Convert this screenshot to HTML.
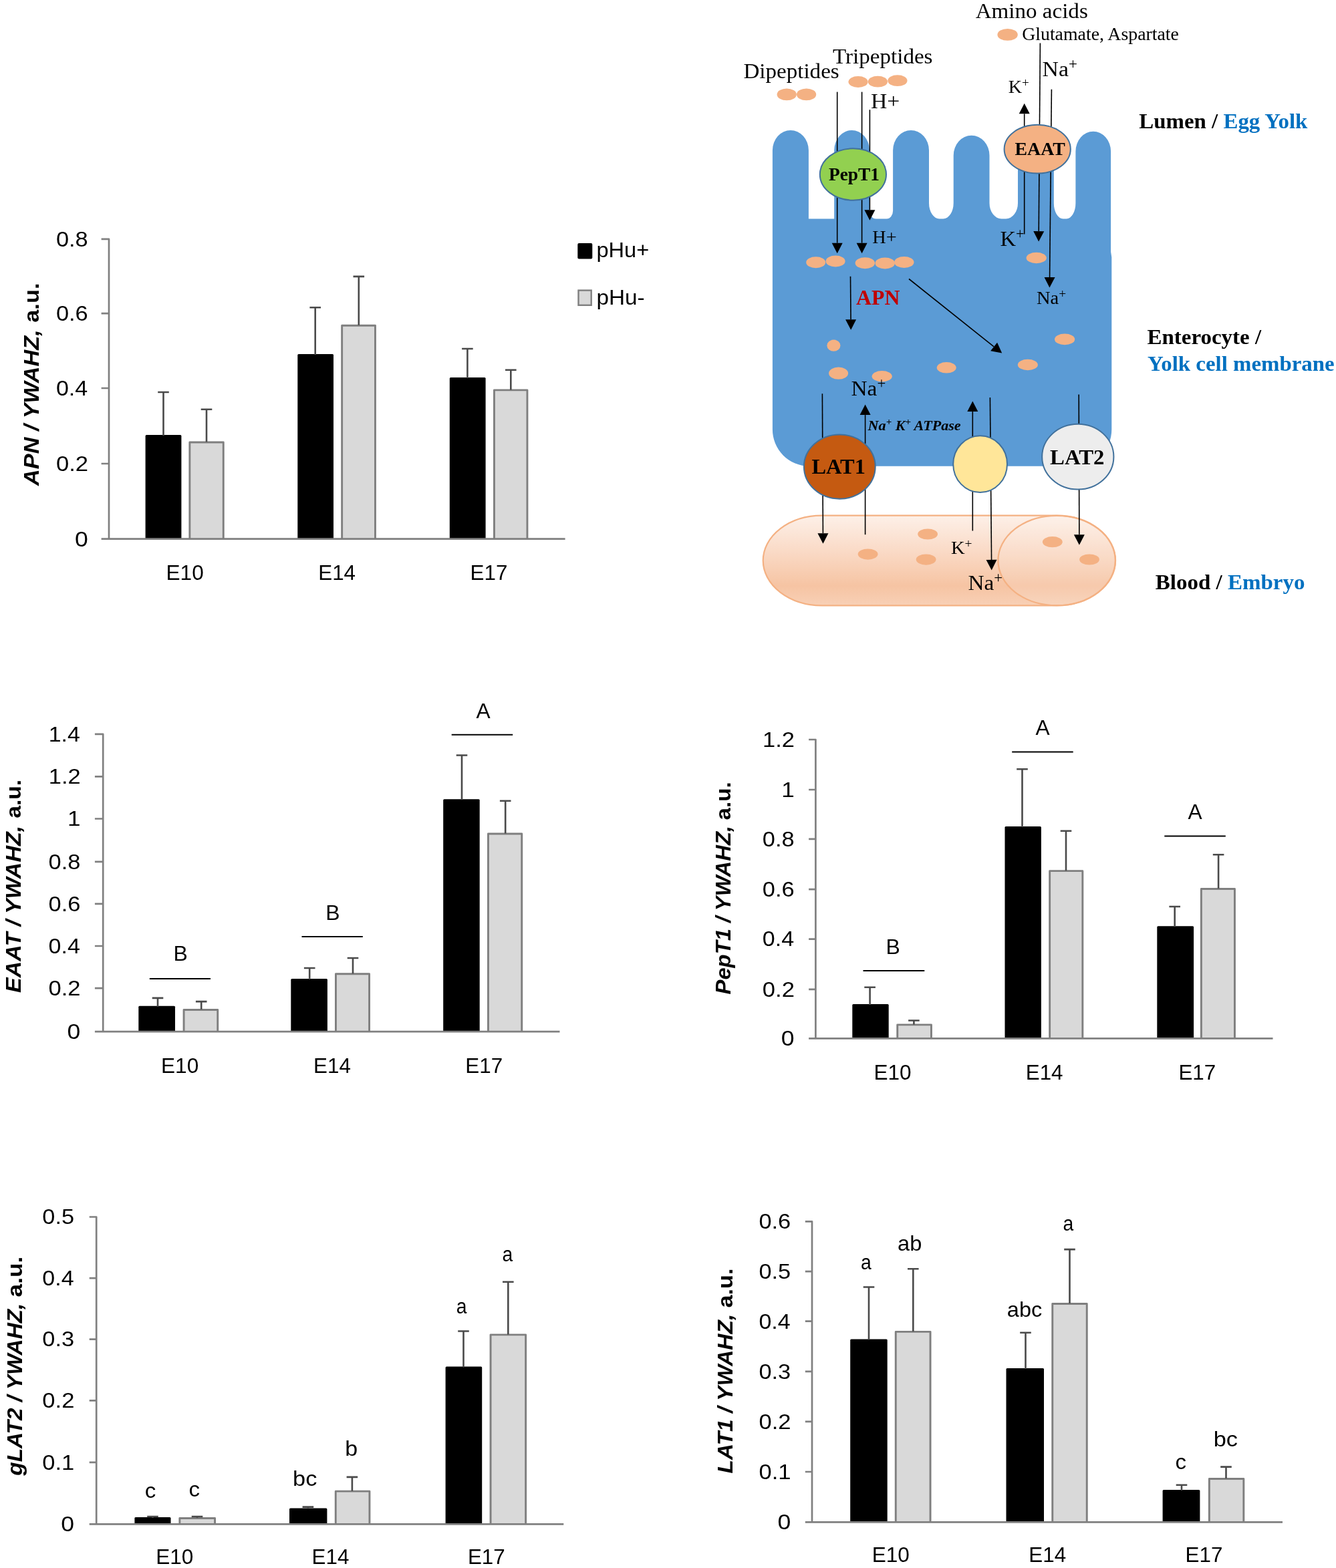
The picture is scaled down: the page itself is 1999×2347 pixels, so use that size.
<!DOCTYPE html>
<html lang="en"><head><meta charset="utf-8"><title>Amino acid and peptide transporters</title>
<style>html,body{margin:0;padding:0;background:#fff}svg{display:block}.s{font-family:'Liberation Sans',sans-serif}.r{font-family:'Liberation Serif',serif}</style>
</head><body>
<svg width="1999" height="2347" viewBox="0 0 1999 2347">
<rect width="1999" height="2347" fill="#fff"/>
<g>
<rect x="217.6" y="651" width="53.8" height="155.7" rx="1.5" fill="#000"/>
<path d="M283.85 806.7V662.05H334.25V806.7" fill="#d9d9d9" stroke="#7f7f7f" stroke-width="2.9" stroke-linejoin="round"/>
<rect x="445.3" y="530" width="53.7" height="276.7" rx="1.5" fill="#000"/>
<path d="M511.65 806.7V487.25H561.45V806.7" fill="#d9d9d9" stroke="#7f7f7f" stroke-width="2.9" stroke-linejoin="round"/>
<rect x="672.8" y="565" width="53.8" height="241.7" rx="1.5" fill="#000"/>
<path d="M739.45 806.7V583.85H788.95V806.7" fill="#d9d9d9" stroke="#7f7f7f" stroke-width="2.9" stroke-linejoin="round"/>
<path d="M244.5 652V587M236.2 587H252.8M309 661.6V612.7M300.7 612.7H317.3M471.7 531V460.3M463.4 460.3H480M536.8 486.8V413.9M528.5 413.9H545.1M699.4 566V522M691.1 522H707.7M764.3 583.4V553.8M756 553.8H772.6" stroke="#4a4a4a" stroke-width="2.6" fill="none"/>
<path d="M151.6 357.8H163V806.7M151.6 806.7H845.6M151.6 694H163M151.6 581H163M151.6 469.1H163" stroke="#808080" stroke-width="2.7" stroke-linejoin="round" fill="none"/>
<text class="s" transform="translate(111.88 817.5) scale(1.1302 1)" font-size="31.5">0</text>
<text class="s" transform="translate(83.92 704.8) scale(1.0989 1)" font-size="31.5">0.2</text>
<text class="s" transform="translate(83.94 591.8) scale(1.0802 1)" font-size="31.5">0.4</text>
<text class="s" transform="translate(83.92 479.9) scale(1.0926 1)" font-size="31.5">0.6</text>
<text class="s" transform="translate(83.92 368.6) scale(1.0926 1)" font-size="31.5">0.8</text>
<text class="s" transform="translate(248.55 867.6) scale(1.0017 1)" font-size="31.5">E10</text>
<text class="s" transform="translate(476.26 867.6) scale(0.9957 1)" font-size="31.5">E14</text>
<text class="s" transform="translate(703.61 867.6) scale(0.9958 1)" font-size="31.5">E17</text>
<text class="s" transform="translate(58.3 727.01) rotate(-90) scale(1.0727 1)" font-size="32" font-weight="bold" font-style="italic">APN / YWAHZ,</text>
<text class="s" transform="translate(58.3 482.73) rotate(-90) scale(1.0731 1)" font-size="32" font-weight="bold">a.u.</text>
</g>
<g>
<rect x="207.3" y="1505.8" width="54.7" height="38.4" rx="1.5" fill="#000"/>
<path d="M275.05 1544.2V1511.55H325.75V1544.2" fill="#d9d9d9" stroke="#7f7f7f" stroke-width="2.9" stroke-linejoin="round"/>
<rect x="435.3" y="1465" width="54.6" height="79.2" rx="1.5" fill="#000"/>
<path d="M502.45 1544.2V1457.75H552.55V1544.2" fill="#d9d9d9" stroke="#7f7f7f" stroke-width="2.9" stroke-linejoin="round"/>
<rect x="663.2" y="1196.2" width="54.5" height="348" rx="1.5" fill="#000"/>
<path d="M730.45 1544.2V1248.05H780.75V1544.2" fill="#d9d9d9" stroke="#7f7f7f" stroke-width="2.9" stroke-linejoin="round"/>
<path d="M236 1506.8V1493.9M227.7 1493.9H244.3M301.2 1511.1V1499.1M292.9 1499.1H309.5M463.2 1466V1449M454.9 1449H471.5M528 1457.3V1434M519.7 1434H536.3M691 1197.2V1130.5M682.7 1130.5H699.3M756.2 1247.6V1198.8M747.9 1198.8H764.5" stroke="#4a4a4a" stroke-width="2.6" fill="none"/>
<path d="M141.9 1098.9H154.2V1544.2M141.9 1544.2H837.5M141.9 1479.1H154.2M141.9 1416H154.2M141.9 1352.9H154.2M141.9 1289.8H154.2M141.9 1225.5H154.2M141.9 1162.3H154.2" stroke="#808080" stroke-width="2.7" stroke-linejoin="round" fill="none"/>
<text class="s" transform="translate(100.48 1555) scale(1.1302 1)" font-size="31.5">0</text>
<text class="s" transform="translate(72.52 1489.9) scale(1.0989 1)" font-size="31.5">0.2</text>
<text class="s" transform="translate(72.54 1426.8) scale(1.0802 1)" font-size="31.5">0.4</text>
<text class="s" transform="translate(72.52 1363.7) scale(1.0926 1)" font-size="31.5">0.6</text>
<text class="s" transform="translate(72.52 1300.6) scale(1.0926 1)" font-size="31.5">0.8</text>
<text class="s" transform="translate(101.06 1236.3) scale(1.1157 1)" font-size="31.5">1</text>
<text class="s" transform="translate(72.72 1173.1) scale(1.0942 1)" font-size="31.5">1.2</text>
<text class="s" transform="translate(72.76 1109.7) scale(1.0751 1)" font-size="31.5">1.4</text>
<text class="s" transform="translate(241.05 1605.9) scale(1.0017 1)" font-size="31.5">E10</text>
<text class="s" transform="translate(469.06 1605.9) scale(0.9957 1)" font-size="31.5">E14</text>
<text class="s" transform="translate(696.31 1605.9) scale(0.9958 1)" font-size="31.5">E17</text>
<path d="M223.8 1465H315" stroke="#000" stroke-width="2"/>
<path d="M451.5 1402.1H542.8" stroke="#000" stroke-width="2"/>
<path d="M675.7 1099.8H767.2" stroke="#000" stroke-width="2"/>
<text class="s" transform="translate(259.57 1438.3) scale(1.0135 1)" font-size="31.5">B</text>
<text class="s" transform="translate(487.37 1376.6) scale(1.0135 1)" font-size="31.5">B</text>
<text class="s" transform="translate(712.62 1074.9) scale(1.0063 1)" font-size="31.5">A</text>
<text class="s" transform="translate(31.3 1485.9) rotate(-90) scale(1.0634 1)" font-size="32" font-weight="bold" font-style="italic">EAAT / YWAHZ,</text>
<text class="s" transform="translate(31.3 1224.81) rotate(-90) scale(1.0519 1)" font-size="32" font-weight="bold">a.u.</text>
</g>
<g>
<rect x="1275.3" y="1502.9" width="54.4" height="51.5" rx="1.5" fill="#000"/>
<path d="M1342.75 1554.4V1533.85H1393.45V1554.4" fill="#d9d9d9" stroke="#7f7f7f" stroke-width="2.9" stroke-linejoin="round"/>
<rect x="1503.5" y="1237" width="54.4" height="317.4" rx="1.5" fill="#000"/>
<path d="M1570.65 1554.4V1303.65H1619.85V1554.4" fill="#d9d9d9" stroke="#7f7f7f" stroke-width="2.9" stroke-linejoin="round"/>
<rect x="1731.3" y="1386.2" width="54.8" height="168.2" rx="1.5" fill="#000"/>
<path d="M1797.35 1554.4V1330.55H1847.45V1554.4" fill="#d9d9d9" stroke="#7f7f7f" stroke-width="2.9" stroke-linejoin="round"/>
<path d="M1301.6 1503.9V1477.7M1293.3 1477.7H1309.9M1367.4 1533.4V1527.5M1359.1 1527.5H1375.7M1529.5 1238V1151.2M1521.2 1151.2H1537.8M1595 1303.2V1243.7M1586.7 1243.7H1603.3M1757.7 1387.2V1357M1749.4 1357H1766M1823.1 1330.1V1279.3M1814.8 1279.3H1831.4" stroke="#4a4a4a" stroke-width="2.6" fill="none"/>
<path d="M1210.1 1107H1220.4V1554.4M1210.1 1554.4H1904.5M1210.1 1480.8H1220.4M1210.1 1405.6H1220.4M1210.1 1331.2H1220.4M1210.1 1255.9H1220.4M1210.1 1182H1220.4" stroke="#808080" stroke-width="2.7" stroke-linejoin="round" fill="none"/>
<text class="s" transform="translate(1168.78 1565.2) scale(1.1302 1)" font-size="31.5">0</text>
<text class="s" transform="translate(1140.82 1491.6) scale(1.0989 1)" font-size="31.5">0.2</text>
<text class="s" transform="translate(1140.84 1416.4) scale(1.0802 1)" font-size="31.5">0.4</text>
<text class="s" transform="translate(1140.82 1342) scale(1.0926 1)" font-size="31.5">0.6</text>
<text class="s" transform="translate(1140.82 1266.7) scale(1.0926 1)" font-size="31.5">0.8</text>
<text class="s" transform="translate(1169.36 1192.8) scale(1.1157 1)" font-size="31.5">1</text>
<text class="s" transform="translate(1141.02 1117.8) scale(1.0942 1)" font-size="31.5">1.2</text>
<text class="s" transform="translate(1307.45 1616) scale(1.0017 1)" font-size="31.5">E10</text>
<text class="s" transform="translate(1534.76 1616) scale(0.9957 1)" font-size="31.5">E14</text>
<text class="s" transform="translate(1763.41 1616) scale(0.9958 1)" font-size="31.5">E17</text>
<path d="M1291.5 1453.1H1383.3" stroke="#000" stroke-width="2"/>
<path d="M1514.2 1125.4H1605.7" stroke="#000" stroke-width="2"/>
<path d="M1742.3 1251.5H1833.8" stroke="#000" stroke-width="2"/>
<text class="s" transform="translate(1325.57 1428.2) scale(1.0135 1)" font-size="31.5">B</text>
<text class="s" transform="translate(1549.42 1099.5) scale(1.0063 1)" font-size="31.5">A</text>
<text class="s" transform="translate(1777.52 1226) scale(1.0063 1)" font-size="31.5">A</text>
<text class="s" transform="translate(1092.6 1488.47) rotate(-90) scale(1.0247 1)" font-size="32" font-weight="bold" font-style="italic">PepT1 / YWAHZ,</text>
<text class="s" transform="translate(1092.6 1227.39) rotate(-90) scale(1.0346 1)" font-size="32" font-weight="bold">a.u.</text>
</g>
<g>
<rect x="201.4" y="2270.9" width="54.1" height="10.4" rx="1.5" fill="#000"/>
<path d="M268.85 2281.3V2272.45H321.55V2281.3" fill="#d9d9d9" stroke="#7f7f7f" stroke-width="2.9" stroke-linejoin="round"/>
<rect x="433" y="2257.6" width="56.4" height="23.7" rx="1.5" fill="#000"/>
<path d="M502.25 2281.3V2232.15H552.95V2281.3" fill="#d9d9d9" stroke="#7f7f7f" stroke-width="2.9" stroke-linejoin="round"/>
<rect x="666.6" y="2045.4" width="54.6" height="235.9" rx="1.5" fill="#000"/>
<path d="M734.05 2281.3V1997.85H786.65V2281.3" fill="#d9d9d9" stroke="#7f7f7f" stroke-width="2.9" stroke-linejoin="round"/>
<path d="M228.5 2271.9V2270M220.2 2270H236.8M295 2272V2270M286.7 2270H303.3M460.9 2258.6V2255.6M452.6 2255.6H469.2M526.9 2231.7V2210.9M518.6 2210.9H535.2M693.5 2046.4V1992.5M685.2 1992.5H701.8M760.3 1997.4V1918.8M752 1918.8H768.6" stroke="#4a4a4a" stroke-width="2.6" fill="none"/>
<path d="M133.7 1821.5H144.2V2281.3M133.7 2281.3H843.3M133.7 2188.8H144.2M133.7 2096.4H144.2M133.7 2004.6H144.2M133.7 1913.1H144.2" stroke="#808080" stroke-width="2.7" stroke-linejoin="round" fill="none"/>
<text class="s" transform="translate(91.28 2292.1) scale(1.1302 1)" font-size="31.5">0</text>
<text class="s" transform="translate(63.32 2199.6) scale(1.0968 1)" font-size="31.5">0.1</text>
<text class="s" transform="translate(63.32 2107.2) scale(1.0989 1)" font-size="31.5">0.2</text>
<text class="s" transform="translate(63.32 2015.4) scale(1.0926 1)" font-size="31.5">0.3</text>
<text class="s" transform="translate(63.34 1923.9) scale(1.0802 1)" font-size="31.5">0.4</text>
<text class="s" transform="translate(63.33 1832.3) scale(1.0905 1)" font-size="31.5">0.5</text>
<text class="s" transform="translate(233.25 2341.2) scale(1.0017 1)" font-size="31.5">E10</text>
<text class="s" transform="translate(466.56 2341.2) scale(0.9957 1)" font-size="31.5">E14</text>
<text class="s" transform="translate(699.91 2341.2) scale(0.9958 1)" font-size="31.5">E17</text>
<text class="s" transform="translate(216.7 2242.3) scale(1.0484 1)" font-size="31.5">c</text>
<text class="s" transform="translate(282.5 2240.3) scale(1.0484 1)" font-size="31.5">c</text>
<text class="s" transform="translate(438.07 2223.8) scale(1.0884 1)" font-size="31.5">bc</text>
<text class="s" transform="translate(516.14 2178.9) scale(1.0794 1)" font-size="31.5">b</text>
<text class="s" transform="translate(682.7 1965.6) scale(0.9000 1)" font-size="31.5">a</text>
<text class="s" transform="translate(751.4 1887.9) scale(0.9000 1)" font-size="31.5">a</text>
<text class="s" transform="translate(33 2208.72) rotate(-90) scale(1.0423 1)" font-size="32" font-weight="bold" font-style="italic">gLAT2 / YWAHZ,</text>
<text class="s" transform="translate(33 1941.46) rotate(-90) scale(1.1038 1)" font-size="32" font-weight="bold">a.u.</text>
</g>
<g>
<rect x="1272.2" y="2004.6" width="55.5" height="273.7" rx="1.5" fill="#000"/>
<path d="M1340.25 2278.3V1993.35H1392.05V2278.3" fill="#d9d9d9" stroke="#7f7f7f" stroke-width="2.9" stroke-linejoin="round"/>
<rect x="1505.5" y="2048" width="56.5" height="230.3" rx="1.5" fill="#000"/>
<path d="M1574.75 2278.3V1951.45H1626.25V2278.3" fill="#d9d9d9" stroke="#7f7f7f" stroke-width="2.9" stroke-linejoin="round"/>
<rect x="1739.6" y="2229.9" width="55.8" height="48.4" rx="1.5" fill="#000"/>
<path d="M1809.35 2278.3V2213.45H1860.85V2278.3" fill="#d9d9d9" stroke="#7f7f7f" stroke-width="2.9" stroke-linejoin="round"/>
<path d="M1300 2005.6V1926.5M1291.7 1926.5H1308.3M1366.3 1992.9V1899.3M1358 1899.3H1374.6M1534.5 2049V1994.7M1526.2 1994.7H1542.8M1600.5 1951V1870.1M1592.2 1870.1H1608.8M1768 2230.9V2222.8M1759.7 2222.8H1776.3M1834.5 2213V2195.6M1826.2 2195.6H1842.8" stroke="#4a4a4a" stroke-width="2.6" fill="none"/>
<path d="M1204.8 1828.3H1215V2278.3M1204.8 2278.3H1919M1204.8 2203H1215M1204.8 2127.9H1215M1204.8 2052.8H1215M1204.8 1977.7H1215M1204.8 1903.1H1215" stroke="#808080" stroke-width="2.7" stroke-linejoin="round" fill="none"/>
<text class="s" transform="translate(1163.38 2289.1) scale(1.1302 1)" font-size="31.5">0</text>
<text class="s" transform="translate(1135.42 2213.8) scale(1.0968 1)" font-size="31.5">0.1</text>
<text class="s" transform="translate(1135.42 2138.7) scale(1.0989 1)" font-size="31.5">0.2</text>
<text class="s" transform="translate(1135.42 2063.6) scale(1.0926 1)" font-size="31.5">0.3</text>
<text class="s" transform="translate(1135.44 1988.5) scale(1.0802 1)" font-size="31.5">0.4</text>
<text class="s" transform="translate(1135.43 1913.9) scale(1.0905 1)" font-size="31.5">0.5</text>
<text class="s" transform="translate(1135.42 1839.1) scale(1.0926 1)" font-size="31.5">0.6</text>
<text class="s" transform="translate(1304.75 2338.3) scale(1.0017 1)" font-size="31.5">E10</text>
<text class="s" transform="translate(1539.36 2338.3) scale(0.9957 1)" font-size="31.5">E14</text>
<text class="s" transform="translate(1773.61 2338.3) scale(0.9958 1)" font-size="31.5">E17</text>
<text class="s" transform="translate(1288.1 1899.5) scale(0.9000 1)" font-size="31.5">a</text>
<text class="s" transform="translate(1343.06 1872) scale(1.0350 1)" font-size="31.5">ab</text>
<text class="s" transform="translate(1506.87 1971.2) scale(1.0311 1)" font-size="31.5">abc</text>
<text class="s" transform="translate(1590.4 1842.3) scale(0.9000 1)" font-size="31.5">a</text>
<text class="s" transform="translate(1758.5 2199.3) scale(1.0484 1)" font-size="31.5">c</text>
<text class="s" transform="translate(1815.67 2164.7) scale(1.0884 1)" font-size="31.5">bc</text>
<text class="s" transform="translate(1096 2205.49) rotate(-90) scale(1.0468 1)" font-size="32" font-weight="bold" font-style="italic">LAT1 / YWAHZ,</text>
<text class="s" transform="translate(1096 1957.43) rotate(-90) scale(1.0692 1)" font-size="32" font-weight="bold">a.u.</text>
</g>
<rect x="864.3" y="364" width="22" height="23.5" rx="2" fill="#000"/>
<rect x="865.5" y="434.6" width="19.2" height="22.2" fill="#d9d9d9" stroke="#7f7f7f" stroke-width="2.4"/>
<text class="s" transform="translate(892.48 385.3) scale(1.0343 1)" font-size="31.5">pHu+</text>
<text class="s" transform="translate(892.44 455.6) scale(1.0572 1)" font-size="31.5">pHu-</text>
<defs><linearGradient id="vg" x1="0" y1="0" x2="0" y2="1"><stop offset="0" stop-color="#fdf0e8"/><stop offset="0.4" stop-color="#fadac6"/><stop offset="0.78" stop-color="#f6c4a3"/><stop offset="1" stop-color="#f8d0b6"/></linearGradient></defs>
<g>
<path d="M1155.9 642V224.9A27 30 0 0 1 1209.9 224.9V327.5H1248.2V224.9A26.4 30 0 0 1 1301 224.9V315.5A9.5 12 0 0 0 1310.5 327.5H1326.6A9.5 12 0 0 0 1336.1 315.5V224.9A26.95 30 0 0 1 1390 224.9V304A15.41 23.5 0 0 0 1405.41 327.5H1411.29A15.41 23.5 0 0 0 1426.7 304V232.8A26.9 30 0 0 1 1480.5 232.8V304A17.85 23.5 0 0 0 1498.35 327.5H1505.15A17.85 23.5 0 0 0 1523 304V232A26.9 30 0 0 1 1576.8 232V304A13.69 23.5 0 0 0 1590.49 327.5H1595.71A13.69 23.5 0 0 0 1609.4 304V226.7A26.35 30 0 0 1 1662.1 226.7V377L1663.3 385V643A55 55 0 0 1 1608.3 697.8H1210.9A55 55 0 0 1 1155.9 642Z" fill="#5b9bd5"/>
<path d="M1229.7 771.6H1581.1A87.7 67.2 0 0 1 1581.1 906.4H1229.7A87.7 67.2 0 0 1 1229.7 771.6Z" fill="url(#vg)" stroke="#f4b183" stroke-width="2.2"/>
<ellipse cx="1581.1" cy="839" rx="87.7" ry="67.2" fill="#fff" fill-opacity="0.1" stroke="#f4b183" stroke-width="2.2"/>
<ellipse cx="1177.2" cy="141.4" rx="14.6" ry="8.9" fill="#f4b183"/>
<ellipse cx="1206.6" cy="141.4" rx="14.6" ry="8.9" fill="#f4b183"/>
<ellipse cx="1284" cy="122.5" rx="14.6" ry="8.4" fill="#f4b183"/>
<ellipse cx="1313.4" cy="122.2" rx="14.6" ry="8.4" fill="#f4b183"/>
<ellipse cx="1342.9" cy="120.7" rx="14.6" ry="8.4" fill="#f4b183"/>
<ellipse cx="1507.6" cy="51.9" rx="15.2" ry="8.9" fill="#f4b183"/>
<ellipse cx="1220.7" cy="392.8" rx="14.5" ry="8.5" fill="#f4b183"/>
<ellipse cx="1250.1" cy="391" rx="14.5" ry="8.5" fill="#f4b183"/>
<ellipse cx="1294.3" cy="393.7" rx="14.7" ry="8.5" fill="#f4b183"/>
<ellipse cx="1324.2" cy="393.9" rx="14.7" ry="8.5" fill="#f4b183"/>
<ellipse cx="1352.8" cy="392.6" rx="14.7" ry="8.5" fill="#f4b183"/>
<ellipse cx="1550.7" cy="386" rx="15.1" ry="8.2" fill="#f4b183"/>
<ellipse cx="1247.4" cy="517.2" rx="10" ry="8.6" fill="#f4b183"/>
<ellipse cx="1254.6" cy="558.7" rx="14.5" ry="9.1" fill="#f4b183"/>
<ellipse cx="1319.7" cy="563.2" rx="15.1" ry="8.2" fill="#f4b183"/>
<ellipse cx="1416.2" cy="550.3" rx="14.5" ry="8.3" fill="#f4b183"/>
<ellipse cx="1537.8" cy="546" rx="15.1" ry="8.3" fill="#f4b183"/>
<ellipse cx="1593.1" cy="507.9" rx="15.1" ry="8.3" fill="#f4b183"/>
<ellipse cx="1388.1" cy="799.5" rx="14.9" ry="8.1" fill="#f4b183"/>
<ellipse cx="1298.6" cy="829.6" rx="14.9" ry="8.1" fill="#f4b183"/>
<ellipse cx="1385.6" cy="837.6" rx="14.9" ry="8.1" fill="#f4b183"/>
<ellipse cx="1574.8" cy="811.2" rx="14.9" ry="8.1" fill="#f4b183"/>
<ellipse cx="1630" cy="837.5" rx="14.9" ry="8.1" fill="#f4b183"/>
<path d="M1252.7 137.6L1252.7 363.7" stroke="#000" stroke-width="1.6" fill="none"/>
<path d="M1252.7 379.2L1244.7 363.7L1260.7 363.7Z" fill="#000"/>
<path d="M1289.6 137.6L1289.6 363.7" stroke="#000" stroke-width="1.6" fill="none"/>
<path d="M1289.6 379.2L1281.6 363.7L1297.6 363.7Z" fill="#000"/>
<path d="M1301.4 164.3L1301.4 314.2" stroke="#000" stroke-width="1.6" fill="none"/>
<path d="M1301.4 329.7L1293.4 314.2L1309.4 314.2Z" fill="#000"/>
<path d="M1556.4 64.6L1554.22 346.1" stroke="#000" stroke-width="1.6" fill="none"/>
<path d="M1554.1 361.6L1546.22 346.04L1562.22 346.16Z" fill="#000"/>
<path d="M1573.4 133.7L1570.56 415" stroke="#000" stroke-width="1.6" fill="none"/>
<path d="M1570.4 430.5L1562.56 414.92L1578.56 415.08Z" fill="#000"/>
<path d="M1532.7 350.5L1532.7 170.3" stroke="#000" stroke-width="1.6" fill="none"/>
<path d="M1532.7 154.8L1540.7 170.3L1524.7 170.3Z" fill="#000"/>
<path d="M1272.5 413.7L1273.06 478.2" stroke="#000" stroke-width="1.6" fill="none"/>
<path d="M1273.2 493.7L1265.06 478.27L1281.06 478.13Z" fill="#000"/>
<path d="M1360 417.5L1487.09 518.93" stroke="#000" stroke-width="1.6" fill="none"/>
<path d="M1499.2 528.6L1482.1 525.18L1492.08 512.68Z" fill="#000"/>
<path d="M1230.4 589.3L1231.42 798.3" stroke="#000" stroke-width="1.6" fill="none"/>
<path d="M1231.5 813.8L1223.42 798.34L1239.42 798.26Z" fill="#000"/>
<path d="M1294.6 800.2L1294.6 621.1" stroke="#000" stroke-width="1.6" fill="none"/>
<path d="M1294.6 605.6L1302.6 621.1L1286.6 621.1Z" fill="#000"/>
<path d="M1455.3 794.5L1455.3 616.1" stroke="#000" stroke-width="1.6" fill="none"/>
<path d="M1455.3 600.6L1463.3 616.1L1447.3 616.1Z" fill="#000"/>
<path d="M1481.4 595L1483.56 837.9" stroke="#000" stroke-width="1.6" fill="none"/>
<path d="M1483.7 853.4L1475.56 837.97L1491.56 837.83Z" fill="#000"/>
<path d="M1614.2 590.4L1614.85 800.3" stroke="#000" stroke-width="1.6" fill="none"/>
<path d="M1614.9 815.8L1606.85 800.32L1622.85 800.28Z" fill="#000"/>
<ellipse cx="1276.4" cy="261" rx="49.6" ry="38.7" fill="#92d050" stroke="#41719c" stroke-width="2"/>
<ellipse cx="1552.2" cy="223.2" rx="49.6" ry="36.4" fill="#f4b183" stroke="#41719c" stroke-width="2"/>
<ellipse cx="1256.3" cy="698.6" rx="53.4" ry="48.1" fill="#c55a11" stroke="#41719c" stroke-width="2"/>
<ellipse cx="1466.6" cy="694.7" rx="40.4" ry="42.4" fill="#ffe699" stroke="#41719c" stroke-width="2"/>
<ellipse cx="1612.8" cy="683.7" rx="53.6" ry="48.9" fill="#ededed" stroke="#41719c" stroke-width="2"/>
<text class="r" transform="translate(1459.67 27.2) scale(1.0212 1)" font-size="32.4">Amino acids</text>
<text class="r" transform="translate(1529.19 60) scale(1.0224 1)" font-size="27.2">Glutamate, Aspartate</text>
<text class="r" transform="translate(1246.02 94.7) scale(1.0210 1)" font-size="32.4">Tripeptides</text>
<text class="r" transform="translate(1112.39 117.4) scale(1.0212 1)" font-size="32.4">Dipeptides</text>
<text class="r" transform="translate(1302.97 162) scale(1.0407 1)" font-size="32.4">H+</text>
<text class="r" transform="translate(1305.22 363.7) scale(1.0422 1)" font-size="27.2">H+</text>
<text class="r" transform="translate(1559.57 114) scale(1.0428 1)" font-size="32.4">Na<tspan font-size="22.03" dx="0" dy="-11.02">+</tspan></text>
<text class="r" transform="translate(1508.73 139.4) scale(1.0344 1)" font-size="27.2">K<tspan font-size="18.5" dx="0" dy="-9.25">+</tspan></text>
<text class="r" transform="translate(1496.4 367.8) scale(1.0073 1)" font-size="32.4">K<tspan font-size="22.03" dx="0" dy="-11.02">+</tspan></text>
<text class="r" transform="translate(1551.02 454.9) scale(1.0471 1)" font-size="27.2">Na<tspan font-size="18.5" dx="0" dy="-9.25">+</tspan></text>
<text class="r" transform="translate(1273.48 592.2) scale(1.0324 1)" font-size="32.4">Na<tspan font-size="22.03" dx="0" dy="-11.02">+</tspan></text>
<text class="r" transform="translate(1281.08 456) scale(0.9810 1)" font-size="32.4" font-weight="bold" fill="#c00000">APN</text>
<text class="r" transform="translate(1240.02 269.7) scale(1.0062 1)" font-size="27.2" font-weight="bold">PepT1</text>
<text class="r" transform="translate(1518.51 231.6) scale(1.0221 1)" font-size="27.2" font-weight="bold">EAAT</text>
<text class="r" transform="translate(1214.43 709.4) scale(1.0004 1)" font-size="32.4" font-weight="bold">LAT1</text>
<text class="r" transform="translate(1571.03 695.1) scale(1.0129 1)" font-size="32.4" font-weight="bold">LAT2</text>
<text class="r" transform="translate(1298.6 643.7) scale(1.025 1)" font-size="21.6" font-weight="bold" font-style="italic">Na<tspan font-size="14.5" dy="-7.6">+</tspan><tspan dy="7.6"> K</tspan><tspan font-size="14.5" dy="-7.6">+</tspan><tspan dy="7.6"> ATPase</tspan></text>
<text class="r" transform="translate(1422.91 829) scale(1.0520 1)" font-size="27.2">K<tspan font-size="18.5" dx="0" dy="-9.25">+</tspan></text>
<text class="r" transform="translate(1448.38 882.9) scale(1.0283 1)" font-size="32.4">Na<tspan font-size="22.03" dx="0" dy="-11.02">+</tspan></text>
<text class="r" transform="translate(1704.22 192.2) scale(1.0164 1)" font-size="32.4" font-weight="bold">Lumen / <tspan fill="#0070c0">Egg Yolk</tspan></text>
<text class="r" transform="translate(1716.42 515.2) scale(1.0190 1)" font-size="32.4" font-weight="bold">Enterocyte /</text>
<text class="r" transform="translate(1717.12 554.7) scale(1.0155 1)" font-size="32.4" font-weight="bold" fill="#0070c0">Yolk cell membrane</text>
<text class="r" transform="translate(1728.72 881.8) scale(1.0193 1)" font-size="32.4" font-weight="bold">Blood / <tspan fill="#0070c0">Embryo</tspan></text>
</g>
</svg></body></html>
